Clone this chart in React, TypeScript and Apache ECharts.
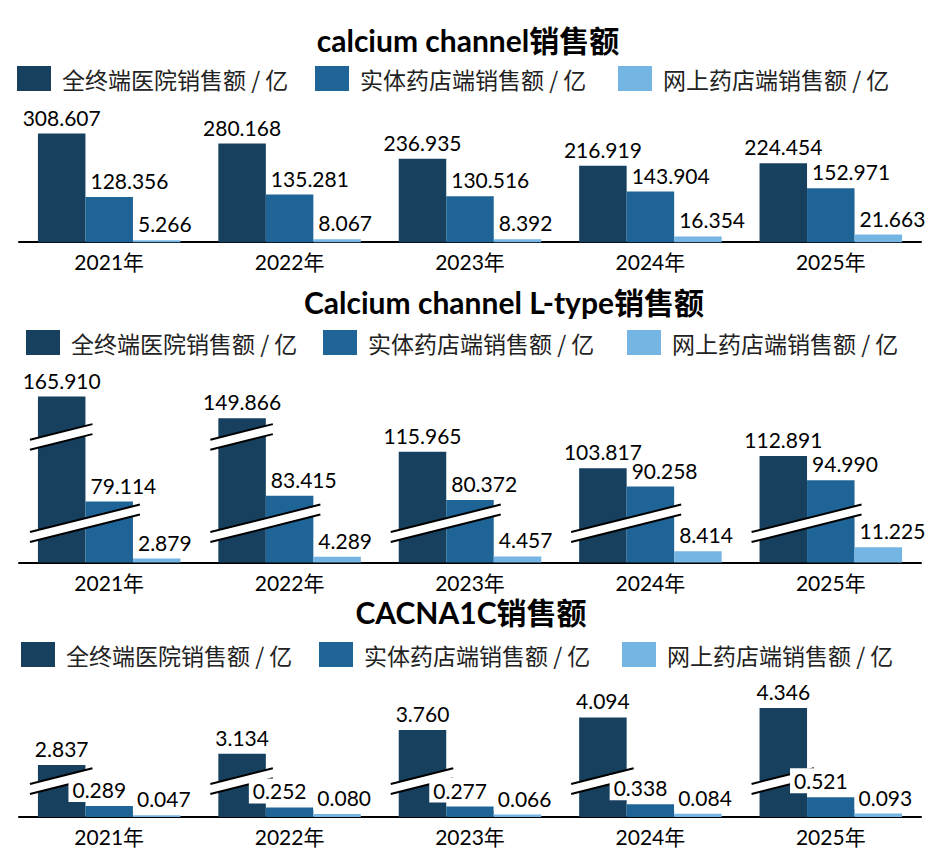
import React, { useEffect, useRef } from "react";
import * as echarts from "echarts";

// ---------- data ----------
const years = ["2021年", "2022年", "2023年", "2024年", "2025年"];
const seriesNames = ["全终端医院销售额 / 亿", "实体药店端销售额 / 亿", "网上药店端销售额 / 亿"];
const titles = ["calcium channel销售额", "Calcium channel L-type销售额", "CACNA1C销售额"];

const p1Hospital = [308.607, 280.168, 236.935, 216.919, 224.454];
const p1Pharmacy = [128.356, 135.281, 130.516, 143.904, 152.971];
const p1Online = [5.266, 8.067, 8.392, 16.354, 21.663];

const p2Hospital = [165.91, 149.866, 115.965, 103.817, 112.891];
const p2Pharmacy = [79.114, 83.415, 80.372, 90.258, 94.99];
const p2Online = [2.879, 4.289, 4.457, 8.414, 11.225];

const p3Hospital = [2.837, 3.134, 3.76, 4.094, 4.346];
const p3Pharmacy = [0.289, 0.252, 0.277, 0.338, 0.521];
const p3Online = [0.047, 0.08, 0.066, 0.084, 0.093];

// value ranges cut out of each y axis (axis breaks)
const p1Breaks: { start: number; end: number; gap: number }[] = [];
const p2Breaks = [
  { start: 26, end: 66, gap: 6 },
  { start: 124, end: 139, gap: 6 },
];
const p3Breaks = [{ start: 0.85, end: 2.51, gap: 0.2 }];
const yMaxes = [350, 180, 5];

// ---------- style / layout ----------
const colors = ["#17405F", "#1F6497", "#75B5E3"];
const LATIN = "Lato, 'Noto Sans CJK SC', sans-serif";
const CJK = "'Noto Sans CJK SC', sans-serif";
const CAT_GAP = 0.21;
const SLOPE = 0.25;

const panels = [
  {
    values: [p1Hospital, p1Pharmacy, p1Online],
    breaks: p1Breaks,
    gridTop: 119,
    gridHeight: 123.2,
    titleX: 468,
    titleTop: 25,
    legendTop: 66,
    legendLefts: [17, 315, 618],
    labelBg: false,
  },
  {
    values: [p2Hospital, p2Pharmacy, p2Online],
    breaks: p2Breaks,
    gridTop: 377.5,
    gridHeight: 185,
    titleX: 504,
    titleTop: 287,
    legendTop: 330,
    legendLefts: [26, 323, 627],
    labelBg: false,
  },
  {
    values: [p3Hospital, p3Pharmacy, p3Online],
    breaks: p3Breaks,
    gridTop: 683.2,
    gridHeight: 133.8,
    titleX: 471,
    titleTop: 597,
    legendTop: 642,
    legendLefts: [21, 319, 622],
    labelBg: true,
  },
];

function breakMarks(values: number[][], breaks: { start: number; end: number }[]) {
  const out: number[][] = [];
  breaks.forEach((b) => {
    years.forEach((_, c) => {
      const crossing = values
        .map((arr, s) => (arr[c] > b.end ? s : -1))
        .filter((s) => s >= 0);
      if (crossing.length) {
        out.push([c, (b.start + b.end) / 2, Math.min(...crossing), Math.max(...crossing)]);
      }
    });
  });
  return out;
}

function labelFor(s: number, bg: boolean) {
  const base: any = {
    show: true,
    fontFamily: LATIN,
    fontSize: 21,
    color: "#000",
    formatter: (p: any) => Number(p.value).toFixed(3),
  };
  if (bg) {
    base.backgroundColor = "#fff";
    base.padding = [2, 4, 2, 4];
  }
  if (s === 0) {
    return { ...base, position: "top", distance: bg ? 4 : 6 };
  }
  if (bg && s === 1) {
    return { ...base, position: [-17, -4], align: "left", verticalAlign: "bottom" };
  }
  if (bg) {
    return { ...base, position: [0, -4], align: "left", verticalAlign: "bottom" };
  }
  return { ...base, position: [5, -6], align: "left", verticalAlign: "bottom" };
}

function buildOption() {
  const title: any[] = [];
  const legend: any[] = [];
  const grid: any[] = [];
  const xAxis: any[] = [];
  const yAxis: any[] = [];
  const series: any[] = [];

  panels.forEach((p, i) => {
    title.push({
      text: titles[i],
      left: p.titleX,
      top: p.titleTop,
      textAlign: "center",
      padding: 0,
      textStyle: { fontFamily: LATIN, fontSize: 30, fontWeight: "bold", color: "#000" },
    });
    seriesNames.forEach((name, s) => {
      legend.push({
        data: [name],
        left: p.legendLefts[s],
        top: p.legendTop,
        padding: 0,
        itemWidth: 34,
        itemHeight: 25,
        icon: "rect",
        selectedMode: false,
        textStyle: { fontFamily: CJK, fontSize: 23, color: "#222", padding: [0, 0, 0, 6] },
      });
    });
    grid.push({ left: 19, width: 902, top: p.gridTop, height: p.gridHeight });
    xAxis.push({
      type: "category",
      gridIndex: i,
      data: years,
      axisLine: { lineStyle: { color: "#000", width: 2 } },
      axisTick: { show: false },
      axisLabel: { fontFamily: LATIN, fontSize: 21, color: "#000", margin: 9 },
    });
    yAxis.push({
      type: "value",
      gridIndex: i,
      min: 0,
      max: yMaxes[i],
      show: false,
      splitLine: { show: false },
      breaks: p.breaks,
      breakArea: { show: false, itemStyle: { opacity: 0 } },
    });
    p.values.forEach((vals, s) => {
      series.push({
        type: "bar",
        name: seriesNames[s],
        xAxisIndex: i,
        yAxisIndex: i,
        data: vals,
        barGap: "0%",
        barCategoryGap: CAT_GAP * 100 + "%",
        itemStyle: { color: colors[s] },
        label: labelFor(s, p.labelBg),
        z: 2,
      });
    });
    const marks = breakMarks(p.values, p.breaks);
    if (marks.length) {
      series.push({
        type: "custom",
        xAxisIndex: i,
        yAxisIndex: i,
        data: marks,
        encode: { x: 0, y: 1 },
        z: 2,
        silent: true,
        renderItem: (params: any, api: any) => {
          const cat = api.value(0);
          const mid = api.value(1);
          const first = api.value(2);
          const last = api.value(3);
          const pt = api.coord([cat, mid]);
          const catW = api.size([1, 0])[0];
          const groupW = catW * (1 - CAT_GAP);
          const barW = groupW / 3;
          const left = pt[0] - groupW / 2;
          const x0 = left + first * barW - 8;
          const x1 = left + (last + 1) * barW + 7;
          const mx = (x0 + x1) / 2;
          const h = 5;
          const yAt = (x: number, d: number) => pt[1] - SLOPE * (x - mx) + d;
          return {
            type: "group",
            children: [
              {
                type: "polygon",
                z2: 1,
                shape: {
                  points: [
                    [x0, yAt(x0, -h)],
                    [x1, yAt(x1, -h)],
                    [x1, yAt(x1, h)],
                    [x0, yAt(x0, h)],
                  ],
                },
                style: { fill: "#fff" },
              },
              {
                type: "line",
                z2: 1,
                shape: { x1: x0, y1: yAt(x0, -h), x2: x1, y2: yAt(x1, -h) },
                style: { stroke: "#000", lineWidth: 2 },
              },
              {
                type: "line",
                z2: 1,
                shape: { x1: x0, y1: yAt(x0, h), x2: x1, y2: yAt(x1, h) },
                style: { stroke: "#000", lineWidth: 2 },
              },
            ],
          };
        },
      });
    }
  });

  return {
    animation: false,
    backgroundColor: "#fff",
    textStyle: { fontFamily: LATIN },
    title,
    legend,
    grid,
    xAxis,
    yAxis,
    series,
  };
}

export default function App() {
  const ref = useRef<HTMLDivElement>(null);
  useEffect(() => {
    const chart = echarts.init(ref.current as HTMLDivElement, null, { renderer: "svg" });
    chart.setOption(buildOption() as any);
    return () => chart.dispose();
  }, []);
  return (
    <div
      ref={ref}
      style={{ position: "fixed", left: 0, top: 0, width: 940, height: 857, background: "#fff" }}
    />
  );
}
